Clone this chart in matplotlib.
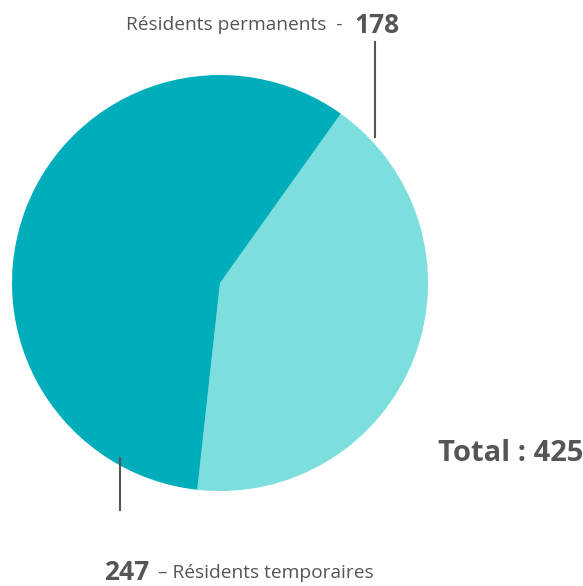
import matplotlib.pyplot as plt

labels = ["Résidents permanents", "Résidents temporaires"]
values = [178, 247]
colors = ["#7ddede", "#00adba"]
total = sum(values)

plt.rcParams['font.family'] = ['Open Sans', 'DejaVu Sans']
gray = "#555555"

fig = plt.figure(figsize=(5.83, 5.86), dpi=100)
ax = fig.add_axes([0.0206, 0.162, 0.7136, 0.710])
ax.pie(values, colors=colors, startangle=54.5, counterclock=False,
       wedgeprops=dict(linewidth=0))
ax.set_aspect('equal')
ax.set_xlim(-1, 1)
ax.set_ylim(-1, 1)
ax.axis('off')

W, H = 583, 586
def fx(px):
    return px / W
def fy(py):
    return 1 - py / H

# top label
fig.text(fx(343), fy(30), labels[0] + "  -", ha='right', va='baseline',
         fontsize=13.8, color=gray)
fig.text(fx(354), fy(33), str(values[0]), ha='left', va='baseline',
         fontsize=19, fontweight='bold', color=gray)
fig.add_artist(plt.Line2D([fx(375), fx(375)], [fy(42), fy(137)], color=gray, lw=1.5))

# bottom label
fig.text(fx(104), fy(580), str(values[1]), ha='left', va='baseline',
         fontsize=19, fontweight='bold', color=gray)
fig.text(fx(158), fy(578), "– " + labels[1], ha='left', va='baseline',
         fontsize=13.8, color=gray)
fig.add_artist(plt.Line2D([fx(120), fx(120)], [fy(458), fy(510)], color=gray, lw=1.5))

# total
fig.text(fx(583), fy(461), "Total : %d" % total, ha='right', va='baseline',
         fontsize=21, fontweight='bold', color=gray)

fig.savefig("out.png", dpi=100)
